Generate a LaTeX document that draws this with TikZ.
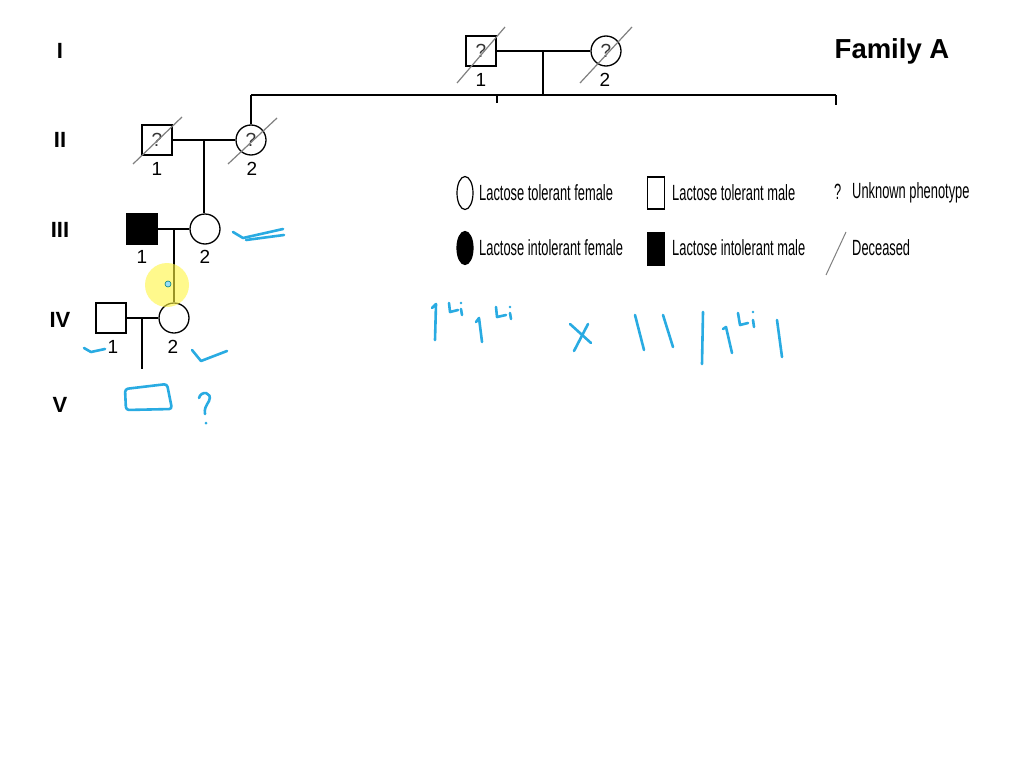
\documentclass[tikz,border=0pt]{standalone}
\usepackage{fontspec}
\setmainfont{Liberation Sans}
\usepackage{graphicx}
\usetikzlibrary{shapes.geometric,calc}
\definecolor{inkblue}{RGB}{41,171,226}
\newcommand{\legtext}[1]{\scalebox{0.585}[1]{\fontsize{22}{22}\selectfont #1}}
\tikzset{
  person/.style={draw, line width=1.3pt, minimum size=30pt, inner sep=0pt, font=\fontsize{19}{19}\selectfont\color{black!80}},
  male/.style={person, rectangle},
  female/.style={person, circle},
  aff/.style={fill=black},
  rel/.style={line width=2pt},
  num/.style={font=\fontsize{19}{19}\selectfont},
  gen/.style={font=\bfseries\fontsize{22}{22}\selectfont},
  dec/.style={draw=black!50, line width=1.2pt},
  ink/.style={draw=inkblue, line width=2.6pt, line cap=round, line join=round},
  legsym/.style={draw, line width=1.2pt, inner sep=0pt},
  legtxt/.style={anchor=west, inner sep=0pt},
}
\begin{document}
\begin{tikzpicture}[x=1pt,y=-1pt]
\useasboundingbox[fill=white] (0,0) rectangle (1024,768);

% generation labels
\node[gen] (gI) at (60,51) {I};
\node[gen] (gII) at (60,140) {II};
\node[gen] (gIII) at (60,230) {III};
\node[gen] (gIV) at (60,320) {IV};
\node[gen] (gV) at (60,405) {V};
\node[font=\bfseries\fontsize{27.5}{27.5}\selectfont] (fam) at (892,51) {Family A};

% Generation I
\node[male] (I1) at (481,51) {?};
\node[female] (I2) at (606,51) {?};
\node[num] (nI1) at (481,80) {1};
\node[num] (nI2) at (605,80) {2};
\draw[rel] (I1.east) -- (I2.west);
\coordinate (mI) at (543,51);
\coordinate (sI) at (543,95);
\draw[rel] (mI) -- (sI);
\coordinate (sL) at (251,95);
\coordinate (sM) at (497,95);
\coordinate (sR) at (836,95);
\coordinate (dM) at (497,103);
\coordinate (dR) at (836,105);
\draw[rel] (sL) -- (sR);
\draw[rel] (sM) -- (dM);
\draw[rel] (sR) -- (dR);
\draw[dec] ($(I1)+(-24,32)$) -- ($(I1)+(24,-24)$);
\draw[dec] ($(I2)+(-26,32)$) -- ($(I2)+(26,-24)$);

% Generation II
\node[male] (II1) at (157,140) {?};
\node[female] (II2) at (251,140) {?};
\node[num] (nII1) at (157,169) {1};
\node[num] (nII2) at (252,169) {2};
\draw[rel] (sL) -- (II2.north);
\draw[rel] (II1.east) -- (II2.west);
\coordinate (mII) at (204,140);
\draw[dec] ($(II1)+(-24,24)$) -- ($(II1)+(25,-23)$);
\draw[dec] ($(II2)+(-23,24)$) -- ($(II2)+(26,-22)$);

% Generation III
\node[male, aff] (III1) at (142,229) {};
\node[female] (III2) at (205,229) {};
\node[num] (nIII1) at (142,257) {1};
\node[num] (nIII2) at (205,257) {2};
\draw[rel] (mII) -- (mII |- III2.north);
\draw[rel] (III1.east) -- (III2.west);
\coordinate (mIII) at (174,229);

% Generation IV
\node[male] (IV1) at (111,318) {};
\node[female] (IV2) at (174,318) {};
\node[num] (nIV1) at (113,347) {1};
\node[num] (nIV2) at (173,347) {2};
\draw[rel] (mIII) -- (mIII |- IV2.north);
\draw[rel] (IV1.east) -- (IV2.west);
\coordinate (mIV) at (142,318);
\coordinate (dIV) at (142,369);
\draw[rel] (mIV) -- (dIV);

% cursor highlight
\fill[yellow!75!white, opacity=0.6] (167,285) circle (22);
\filldraw[fill=cyan!40, draw=teal, line width=0.6pt] (168,284) circle (3);

% legend
\node[legsym, ellipse, minimum width=16pt, minimum height=33pt] (lf) at (465,193) {};
\node[legtxt] (lft) at (479,193) {\legtext{Lactose tolerant female}};
\node[legsym, rectangle, minimum width=17pt, minimum height=32pt] (lm) at (656,193) {};
\node[legtxt] (lmt) at (672,193) {\legtext{Lactose tolerant male}};
\node[legtxt] (lq) at (834,192) {\legtext{?}};
\node[legtxt] (lqt) at (852,193) {\legtext{Unknown phenotype}};
\node[legsym, ellipse, fill=black, minimum width=16pt, minimum height=33pt] (laf) at (465,248) {};
\node[legtxt] (laft) at (479,248) {\legtext{Lactose intolerant female}};
\node[legsym, rectangle, fill=black, minimum width=17pt, minimum height=32pt] (lam) at (656,249) {};
\node[legtxt] (lamt) at (672,248) {\legtext{Lactose intolerant male}};
\coordinate (ld1) at (826,275);
\coordinate (ld2) at (846,232);
\draw[dec, line width=1pt] (ld1) -- (ld2);
\node[legtxt] (ldt) at (852,248) {\legtext{Deceased}};

% handwriting
\draw[ink] (233,232) -- (243,238) -- (283,229);
\draw[ink] (246,240) -- (284,235);
\draw[ink] (84,348) -- (91,352) -- (105,349);
\draw[ink] (192,350) -- (201,361) -- (227,351);
\draw[ink, rounded corners=3pt] (125,389) -- (167,384) -- (172,409) -- (126,410) -- cycle;
\draw[ink] (199,398) .. controls (201,390) and (213,392) .. (209,401) .. controls (206,406) and (204,409) .. (205,414);
\fill[inkblue] (206,423) circle (1.5);

% genotype: l^Li l^Li x ll / l^Li l
\draw[ink] (432,308) -- (436,304) -- (435,340);
\draw[ink] (449,303) -- (450,312) -- (458,310);
\draw[ink] (461,309) -- (462,315);
\fill[inkblue] (461,303) circle (1.4);
\draw[ink] (476,322) -- (479,318) -- (482,342);
\draw[ink] (496,307) -- (497,317) -- (506,315);
\draw[ink] (510,313) -- (511,319);
\fill[inkblue] (510,307) circle (1.4);
\draw[ink] (570,324) -- (591,343);
\draw[ink] (588,324) -- (574,351);
\draw[ink] (635,315) -- (644,350);
\draw[ink] (663,315) -- (673,347);
\draw[ink] (703,312) -- (702,364);
\draw[ink] (723,329) -- (726,327) -- (732,353);
\draw[ink] (738,313) -- (740,325) -- (748,323);
\draw[ink] (753,320) -- (754,327);
\fill[inkblue] (753,312) circle (1.4);
\draw[ink] (777,320) -- (782,357);
\end{tikzpicture}
\end{document}
